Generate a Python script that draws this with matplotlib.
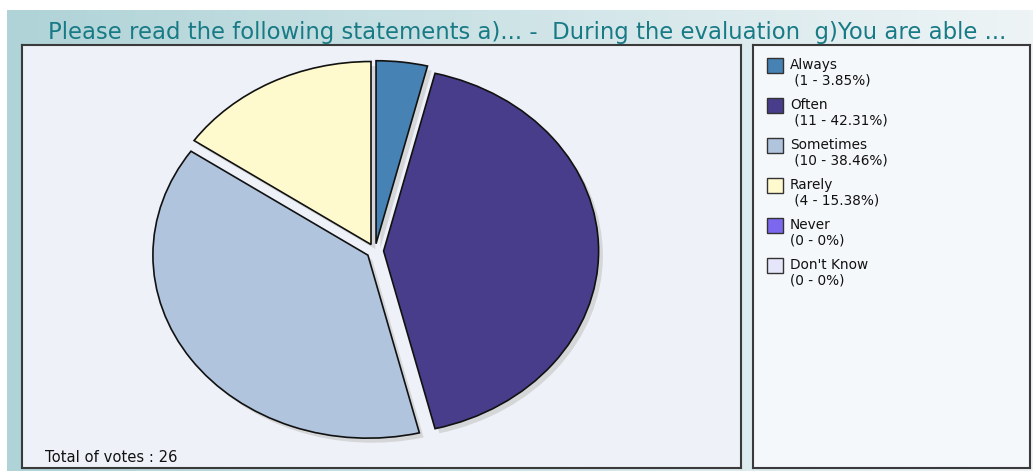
import numpy as np
import matplotlib
matplotlib.use("Agg")
import matplotlib.pyplot as plt
from matplotlib.colors import LinearSegmentedColormap

W, H = 1033, 471

title = "Please read the following statements a)... -  During the evaluation  g)You are able ..."
categories = ["Always", "Often", "Sometimes", "Rarely", "Never", "Don't Know"]
votes = [1, 11, 10, 4, 0, 0]
percents = ["3.85", "42.31", "38.46", "15.38", "0", "0"]
colors = ["#4682b4", "#483d8b", "#b0c4de", "#fffacd", "#7b68ee", "#e6e6fa"]
total_votes = 26


def box(x0, y0, x1, y1):
    # pixel box (top-left origin) -> figure fraction rect
    return [x0 / W, 1 - y1 / H, (x1 - x0) / W, (y1 - y0) / H]


fig = plt.figure(figsize=(W / 100, H / 100), dpi=100)
fig.patch.set_facecolor("white")

# gradient background
bg = fig.add_axes(box(7, 10, W, H))
cmap = LinearSegmentedColormap.from_list("bg", ["#afd3d7", "#cfe4e7", "#eef4f6"])
bg.imshow(np.linspace(0, 1, 256)[None, :], aspect="auto", cmap=cmap, extent=[0, 1, 0, 1])
bg.axis("off")

fig.text(527 / W, 1 - 33 / H, title, ha="center", va="center",
         fontsize=16.4, color="#177a85", family="DejaVu Sans")

# left panel
pl = fig.add_axes(box(22, 45, 741, 468))
pl.set_facecolor("#eef2f8")
pl.set_xticks([])
pl.set_yticks([])
for s in pl.spines.values():
    s.set_color("#3a3a3a")
    s.set_linewidth(1.5)
pl.text(23 / 719, 10 / 423, "Total of votes : %d" % total_votes, transform=pl.transAxes,
        fontsize=10.6, color="#111111", va="center", ha="left")

# right panel / legend
pr = fig.add_axes(box(753, 45, 1030, 468))
pr.set_facecolor("#f5f8fb")
pr.set_xticks([])
pr.set_yticks([])
for s in pr.spines.values():
    s.set_color("#3a3a3a")
    s.set_linewidth(1.5)
pr.set_xlim(753, 1030)
pr.set_ylim(468, 45)
for i, cat in enumerate(categories):
    y = 58 + i * 40
    pr.add_patch(plt.Rectangle((767, y), 16, 15, facecolor=colors[i], edgecolor="#333333", lw=1))
    pr.text(790, y + 7, cat, fontsize=9.8, va="center", ha="left", color="#111111")
    lab = "(%d - %s%%)" % (votes[i], percents[i])
    if votes[i] > 0:
        lab = " " + lab
    pr.text(790, y + 23, lab, fontsize=9.8, va="center", ha="left", color="#111111")

# pie (elliptical)
cx, cy, rx, ry = 375, 251, 215, 183
ax = fig.add_axes(box(cx - 1.2 * rx, cy - 1.2 * ry, cx + 1.2 * rx, cy + 1.2 * ry))
ax.set_xlim(-1.2, 1.2)
ax.set_ylim(-1.2, 1.2)
ax.axis("off")

vals = [v for v in votes if v > 0]
cols = [c for v, c in zip(votes, colors) if v > 0]
explode = [0.04] * len(vals)
ax.pie(vals, colors=["#d4d6d8"] * len(vals), explode=explode, startangle=90,
       counterclock=False, center=(0.02, -0.025), radius=1.0,
       wedgeprops=dict(linewidth=0), normalize=True)
ax.pie(vals, colors=cols, explode=explode, startangle=90, counterclock=False,
       center=(0, 0), radius=1.0,
       wedgeprops=dict(edgecolor="#111111", linewidth=1.2), normalize=True)
ax.set_xlim(-1.2, 1.2)
ax.set_ylim(-1.2, 1.2)
ax.set_aspect("auto")

fig.savefig("out.png", dpi=100)
